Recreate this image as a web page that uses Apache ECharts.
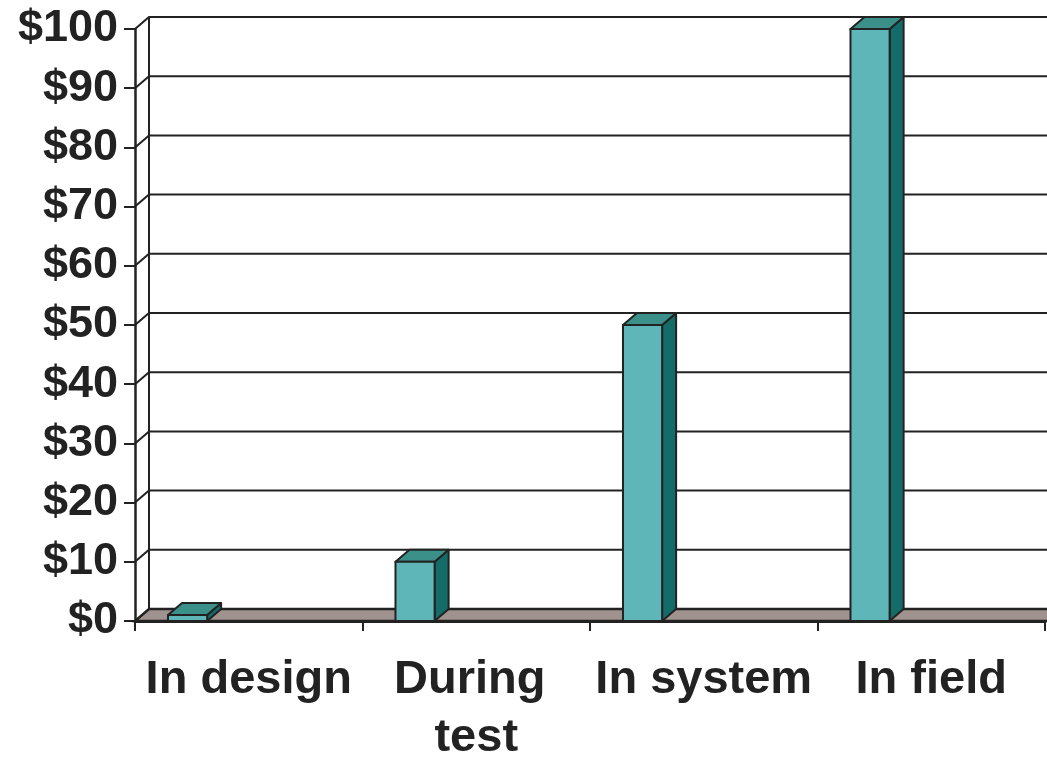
<!DOCTYPE html>
<html>
<head>
<meta charset="utf-8">
<script src="https://cdn.jsdelivr.net/npm/echarts@6/dist/echarts.min.js"></script>
<style>
  html, body { margin: 0; padding: 0; background: #fff; }
  #chart { width: 1047px; height: 757px; }
</style>
</head>
<body>
<div id="chart"></div>
<script>
// Cost of fixing a defect, by the stage where it is found
const categories = ['In design', 'During test', 'In system', 'In field'];
const costs = [1, 10, 50, 100];
const yTicks = [0, 10, 20, 30, 40, 50, 60, 70, 80, 90, 100];

// 3-D depth offset of the back wall relative to the front plane (px)
const DEPTH_X = 14;
const DEPTH_Y = -12;
const EDGE = '#222222';

const chart = echarts.init(document.getElementById('chart'), null, { renderer: 'canvas' });

// Back wall, side-wall diagonals and the floor slab
function renderFrame(params, api) {
  const cs = params.coordSys;
  const v = api.value(0);
  const y = api.coord([0, v])[1];
  const x0 = cs.x;
  const x1 = cs.x + cs.width + 40;
  const children = [];
  if (v === 0) {
    children.push({
      type: 'polygon',
      shape: { points: [[x0, y], [x1, y], [x1 + DEPTH_X, y + DEPTH_Y], [x0 + DEPTH_X, y + DEPTH_Y]] },
      style: { fill: '#9f928f', stroke: EDGE, lineWidth: 2.5 },
      z2: 1
    });
    // back wall left edge
    const yTop = api.coord([0, yTicks[yTicks.length - 1]])[1];
    children.push({
      type: 'line',
      shape: { x1: x0 + DEPTH_X, y1: y + DEPTH_Y, x2: x0 + DEPTH_X, y2: yTop + DEPTH_Y },
      style: { stroke: EDGE, lineWidth: 2 },
      z2: 0
    });
  } else {
    children.push({
      type: 'polyline',
      shape: { points: [[x0, y], [x0 + DEPTH_X, y + DEPTH_Y], [x1, y + DEPTH_Y]] },
      style: { stroke: EDGE, lineWidth: 2, fill: null },
      z2: 0
    });
  }
  return { type: 'group', children: children };
}

// One 3-D box per category
function renderBar(params, api) {
  const idx = api.value(0);
  const val = api.value(1);
  const base = api.coord([idx, 0]);
  const top = api.coord([idx, val]);
  const bw = api.size([1, 0])[0];
  const left = base[0] - 0.355 * bw;
  const right = left + 0.172 * bw;
  const yb = base[1];
  const yt = top[1];
  const s = { stroke: EDGE, lineWidth: 2, lineJoin: 'round' };
  return {
    type: 'group',
    children: [
      { type: 'polygon', shape: { points: [[right, yb], [right + DEPTH_X, yb + DEPTH_Y], [right + DEPTH_X, yt + DEPTH_Y], [right, yt]] },
        style: Object.assign({ fill: '#146c68' }, s) },
      { type: 'polygon', shape: { points: [[left, yt], [right, yt], [right + DEPTH_X, yt + DEPTH_Y], [left + DEPTH_X, yt + DEPTH_Y]] },
        style: Object.assign({ fill: '#3b9189' }, s) },
      { type: 'rect', shape: { x: left, y: yt, width: right - left, height: yb - yt },
        style: Object.assign({ fill: '#5fb6b9' }, s) }
    ]
  };
}

const option = {
  backgroundColor: '#ffffff',
  animation: false,
  grid: { left: 135, right: 2, top: 29, bottom: 136, containLabel: false, outerBoundsMode: 'none' },
  xAxis: {
    type: 'category',
    data: categories,
    boundaryGap: true,
    axisLine: { show: true, lineStyle: { color: EDGE, width: 3 } },
    axisTick: { show: true, length: 10, lineStyle: { color: EDGE, width: 2 } },
    axisLabel: {
      interval: 0,
      margin: 30,
      color: '#222222',
      fontFamily: '"Liberation Sans", Arial, sans-serif',
      fontWeight: 'bold',
      fontSize: 47,
      lineHeight: 58,
      width: 227,
      overflow: 'break'
    },
    splitLine: { show: false }
  },
  yAxis: {
    type: 'value',
    min: 0,
    max: 100,
    interval: 10,
    axisLine: { show: true, lineStyle: { color: EDGE, width: 2.5 } },
    axisTick: { show: true, length: 11, lineStyle: { color: EDGE, width: 2 } },
    axisLabel: {
      margin: 17,
      padding: [6, 0, 0, 0],
      color: '#222222',
      fontFamily: '"Liberation Sans", Arial, sans-serif',
      fontWeight: 'bold',
      fontSize: 45,
      formatter: v => '$' + v
    },
    splitLine: { show: false }
  },
  series: [
    {
      type: 'custom',
      name: 'frame',
      renderItem: renderFrame,
      data: yTicks.map(v => [v]),
      encode: { y: 0 },
      clip: false,
      z: 1,
      silent: true
    },
    {
      type: 'custom',
      name: 'cost',
      renderItem: renderBar,
      data: costs.map((c, i) => [i, c]),
      encode: { x: 0, y: 1 },
      clip: false,
      z: 3
    }
  ]
};

chart.setOption(option);
</script>
</body>
</html>
